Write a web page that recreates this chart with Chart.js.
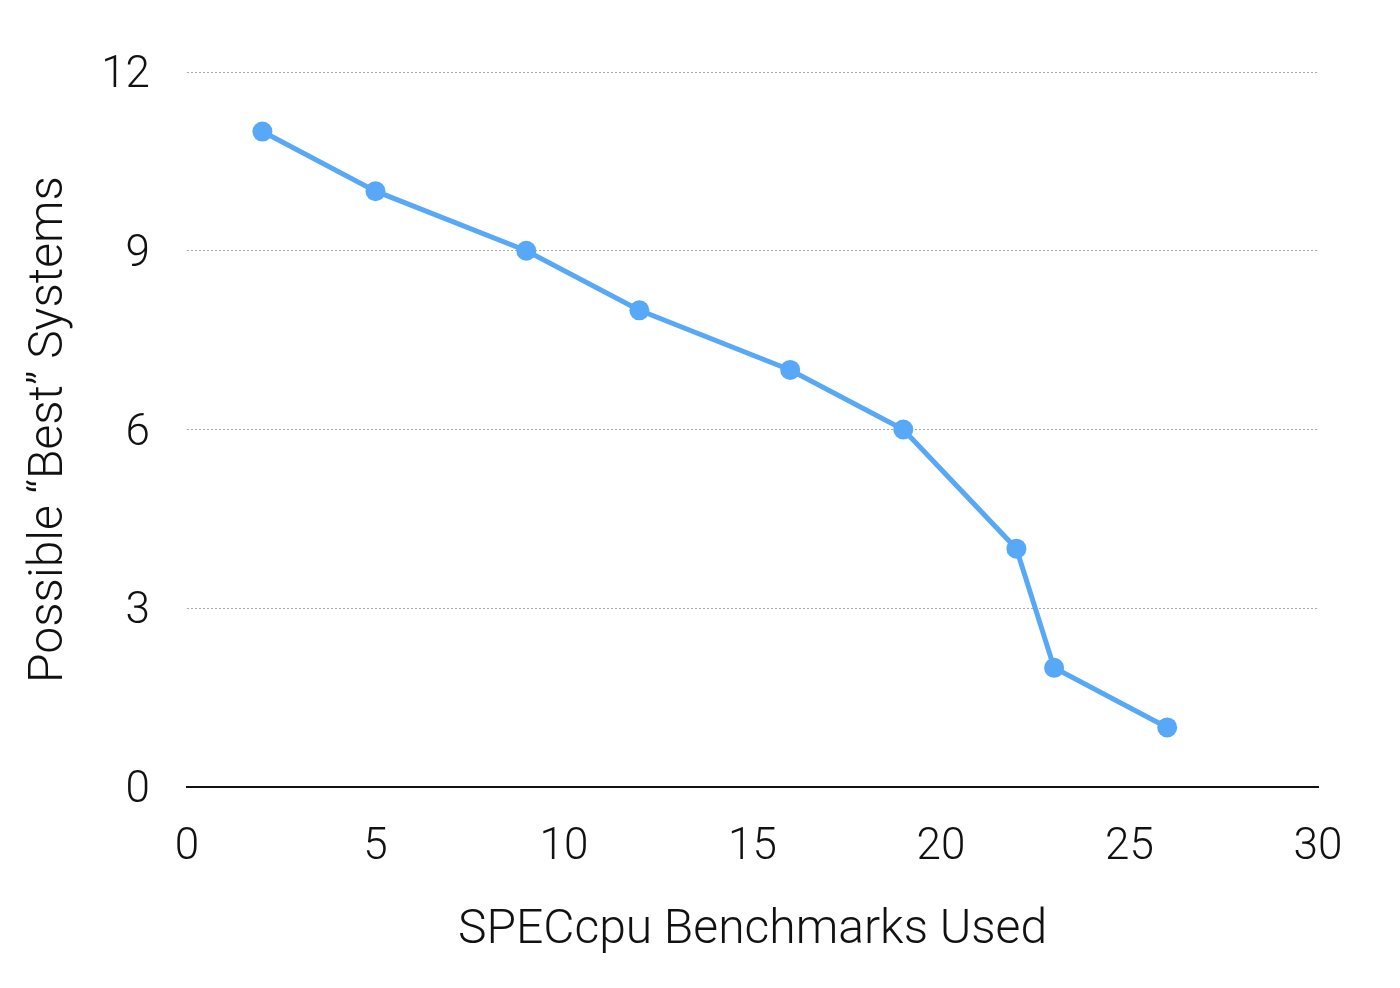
<!DOCTYPE html>
<html>
<head>
<meta charset="utf-8">
<script src="https://cdn.jsdelivr.net/npm/chart.js@4/dist/chart.umd.min.js"></script>
<style>
  html, body { margin: 0; padding: 0; background: #fff; }
  #wrap { width: 1400px; height: 988px; }
</style>
</head>
<body>
<div id="wrap"><canvas id="chart" width="1400" height="988"></canvas></div>
<script>
const benchmarks = [2, 5, 9, 12, 16, 19, 22, 23, 26]
const bestSystems = [11, 10, 9, 8, 7, 6, 4, 2, 1]
const xTitle = 'SPECcpu Benchmarks Used'
const yTitle = 'Possible \u201cBest\u201d Systems'

const blue = '#57a9f7'
const font = { family: 'Roboto, "Liberation Sans", sans-serif', weight: 300 }

Chart.defaults.font.family = font.family
Chart.defaults.color = '#111'

new Chart('chart', {
  type: 'line',
  data: {
    datasets: [{
      data: benchmarks.map((x, i) => ({ x, y: bestSystems[i] })),
      borderColor: blue,
      backgroundColor: blue,
      borderWidth: 5,
      pointRadius: 10,
      pointHoverRadius: 10,
      pointBorderWidth: 0,
      tension: 0,
    }],
  },
  options: {
    responsive: false,
    animation: false,
    layout: { padding: { left: 0, right: 82, top: 72, bottom: 0 } },
    plugins: { legend: { display: false }, tooltip: { enabled: false } },
    scales: {
      x: {
        type: 'linear',
        min: 0,
        max: 30,
        ticks: { stepSize: 5, padding: 35, font: { ...font, size: 44 } },
        grid: { display: false, drawTicks: false },
        border: { display: true, color: '#111', width: 2 },
        title: { display: true, text: xTitle, font: { ...font, size: 48 }, padding: { top: 0, bottom: 28 } },
        afterFit: scale => { scale.height = 201 },
      },
      y: {
        min: 0,
        max: 12,
        ticks: { stepSize: 3, padding: 37, labelOffset: 4, font: { ...font, size: 44 } },
        grid: {
          drawTicks: false,
          lineWidth: 1,
          color: ctx => ctx.tick && ctx.tick.value === 0 ? 'rgba(0,0,0,0)' : '#a8a8a8',
        },
        border: { display: false, dash: [2, 2] },
        title: { display: true, text: yTitle, font: { ...font, size: 48 }, padding: { top: 21, bottom: 0 } },
        afterFit: scale => { scale.width = 187 },
      },
    },
  },
})
</script>
</body>
</html>
